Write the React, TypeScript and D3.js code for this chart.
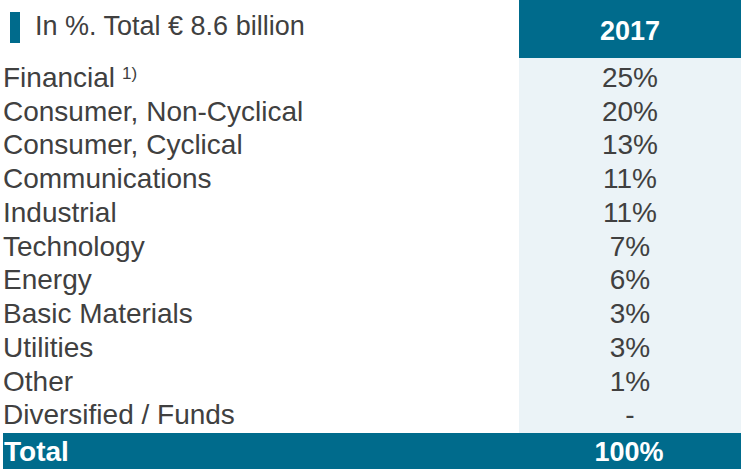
import { useEffect } from "react";
import * as d3 from "d3";

const categories = [
  "Financial",
  "Consumer, Non-Cyclical",
  "Consumer, Cyclical",
  "Communications",
  "Industrial",
  "Technology",
  "Energy",
  "Basic Materials",
  "Utilities",
  "Other",
  "Diversified / Funds",
];
const shares2017: (number | null)[] = [25, 20, 13, 11, 11, 7, 6, 3, 3, 1, null];
const footnotes = ["1)", "", "", "", "", "", "", "", "", "", ""];
const columnLabel = "2017";
const totalLabel = "Total";
const totalValue = 100;
const subtitle = "In %. Total \u20ac 8.6 billion";

const W = 741;
const H = 469;
const BLUE = "#006b8c";
const LIGHT = "#ebf3f7";
const TEXT = "#404040";
const FONT = "'Liberation Sans', Arial, sans-serif";

export default function App() {
  useEffect(() => {
    document.body.style.margin = "0";
  }, []);

  const colX0 = 519;
  const headerBottom = 58;
  const totalTop = 433;

  // row baselines: one band per category between header and total row
  const y = d3.scaleBand<string>().domain(categories).range([60, 431]).padding(0);
  const colCenter = (colX0 + W) / 2;
  const fmt = (v: number | null) => (v == null ? "-" : `${d3.format("d")(v)}%`);

  return (
    <svg width={W} height={H} style={{ display: "block" }} fontFamily={FONT}>
      {/* header band + value column */}
      <rect x={colX0} y={0} width={W - colX0} height={headerBottom} fill={BLUE} />
      <rect x={colX0} y={headerBottom} width={W - colX0} height={totalTop - headerBottom} fill={LIGHT} />
      <text x={colCenter} y={40} textAnchor="middle" fill="#fff" fontWeight="bold" fontSize={27}>
        {columnLabel}
      </text>

      {/* subtitle with marker */}
      <rect x={10} y={12} width={10} height={31} fill={BLUE} />
      <text x={35} y={35} fill={TEXT} fontSize={27}>
        {subtitle}
      </text>

      {categories.map((c, i) => {
        const by = (y(c) ?? 0) + 27;
        return (
          <g key={c}>
            <text x={3} y={by} fill={TEXT} fontSize={28}>
              {c}
              {footnotes[i] ? (
                <tspan dx={7} dy={-8} fontSize={17}>
                  {footnotes[i]}
                </tspan>
              ) : null}
            </text>
            <text x={colCenter} y={by} fill={TEXT} fontSize={28} textAnchor="middle">
              {fmt(shares2017[i])}
            </text>
          </g>
        );
      })}

      {/* total row */}
      <rect x={3} y={totalTop} width={W - 3} height={H - totalTop} fill={BLUE} />
      <text x={4} y={461} fill="#fff" fontWeight="bold" fontSize={28}>
        {totalLabel}
      </text>
      <text x={colCenter - 1} y={461} fill="#fff" fontWeight="bold" fontSize={27} textAnchor="middle">
        {fmt(totalValue)}
      </text>
    </svg>
  );
}
